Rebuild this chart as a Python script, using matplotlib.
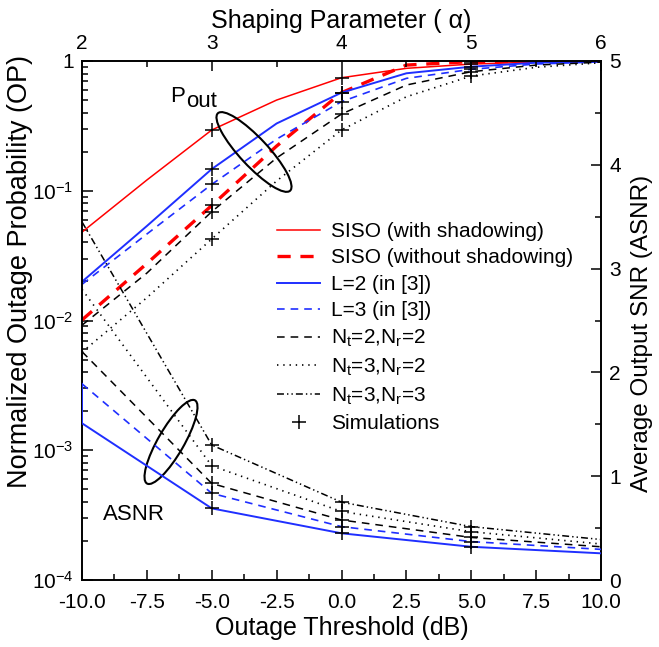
import matplotlib
matplotlib.use("Agg")
import matplotlib.pyplot as plt
from matplotlib.patches import Ellipse
from matplotlib.ticker import MultipleLocator, FixedLocator, NullFormatter
import numpy as np

plt.rcParams["font.family"] = ["Liberation Sans", "DejaVu Sans"]
plt.rcParams["mathtext.fontset"] = "custom"
plt.rcParams["mathtext.rm"] = "Liberation Sans"
plt.rcParams["mathtext.it"] = "Liberation Sans:italic"
plt.rcParams["mathtext.default"] = "regular"
plt.rcParams["lines.scale_dashes"] = False

# outage probability vs outage threshold (dB)
thr = [-10, -7.5, -5, -2.5, 0, 2.5, 5, 7.5, 10]
op_siso_sh = [0.048, 0.121, 0.294, 0.50, 0.743, 0.878, 0.947, 0.982, 0.995]
op_siso_nosh = [0.0101, 0.0275, 0.077, 0.221, 0.57, 0.93, 0.99, 0.998, 1.0]
op_l2 = [0.0199, 0.0535, 0.147, 0.33, 0.57, 0.804, 0.904, 0.97, 0.993]
op_l3 = [0.0190, 0.0464, 0.112, 0.25, 0.486, 0.735, 0.863, 0.948, 0.985]
op_22 = [0.0092, 0.0232, 0.069, 0.179, 0.39, 0.653, 0.827, 0.93, 0.98]
op_32 = [0.0057, 0.0150, 0.0425, 0.119, 0.294, 0.53, 0.766, 0.894, 0.97]
sim_thr = [-5, 0, 5]
thr_ticks = [-10, -7.5, -5, -2.5, 0, 2.5, 5, 7.5, 10]

# average output SNR vs shaping parameter alpha
alpha = [2, 3, 4, 5, 6]
alpha_l2 = [2, 2, 3, 4, 5, 6]
asnr_l2 = [1.89, 1.51, 0.69, 0.45, 0.32, 0.257]
asnr_l3 = [1.89, 0.835, 0.514, 0.37, 0.295]
asnr_22 = [2.20, 0.93, 0.578, 0.41, 0.32]
asnr_32 = [2.80, 1.10, 0.66, 0.465, 0.347]
asnr_33 = [3.45, 1.30, 0.75, 0.514, 0.39]
sim_alpha = [3, 4, 5]

W, H = 659, 647
fig = plt.figure(figsize=(W / 100, H / 100), dpi=100)
rect = [82 / W, 1 - 580 / H, 519 / W, 519 / H]
ax = fig.add_axes(rect)
ax2 = fig.add_axes(rect, frameon=False)

red_dash = (0, (9.5, 7))
blk_dash = (0, (5.5, 4.3))
dots = (0, (1, 3.5))
dashdotdot = (0, (5, 2.2, 1, 2.2, 1, 2.2))

h1, = ax.plot(thr, op_siso_sh, color="red", lw=1.1)
h2, = ax.plot(thr, op_siso_nosh, color="red", lw=2.4, linestyle=red_dash)
h3, = ax.plot(thr, op_l2, color="#1f2fff", lw=1.4)
h4, = ax.plot(thr, op_l3, color="#1f2fff", lw=1.2, linestyle=blk_dash)
h5, = ax.plot(thr, op_22, color="black", lw=1.1, linestyle=blk_dash)
h6, = ax.plot(thr, op_32, color="black", lw=1.2, linestyle=dots)

mk = dict(linestyle="none", marker="+", color="black", markersize=10, mew=1.1)
for series in [op_siso_sh, op_siso_nosh, op_l2, op_l3, op_22, op_32]:
    ax.plot(sim_thr, [series[thr.index(t)] for t in sim_thr], **mk)

ax2.plot(alpha_l2, asnr_l2, color="#1f2fff", lw=1.4)
ax2.plot(alpha, asnr_l3, color="#1f2fff", lw=1.2, linestyle=blk_dash)
ax2.plot(alpha, asnr_22, color="black", lw=1.1, linestyle=blk_dash)
ax2.plot(alpha, asnr_32, color="black", lw=1.2, linestyle=dots)
h7, = ax2.plot(alpha, asnr_33, color="black", lw=1.1, linestyle=dashdotdot)
for series in [asnr_l2[1:], asnr_l3, asnr_22, asnr_32, asnr_33]:
    h8, = ax2.plot(sim_alpha, [series[alpha.index(a)] for a in sim_alpha], **mk)

# axes setup
ax.set_xlim(-10, 10)
ax.set_yscale("log")
ax.set_ylim(1e-4, 1)
ax.set_xticks(thr_ticks)
ax.set_xticklabels(["%.1f" % v for v in thr_ticks])
ax.xaxis.set_minor_locator(MultipleLocator(1.25))
ax.yaxis.set_major_locator(FixedLocator([1e-4, 1e-3, 1e-2, 1e-1, 1]))
ax.set_yticklabels(["10$^{-4}$", "10$^{-3}$", "10$^{-2}$", "10$^{-1}$", "1"])
ax.yaxis.set_minor_locator(FixedLocator(
    [m * 10.0 ** e for e in range(-4, 0) for m in range(2, 10)]))
ax.yaxis.set_minor_formatter(NullFormatter())
ax.tick_params(which="both", direction="in", top=False, right=False, labelsize=15)
ax.tick_params(axis="x", which="major", length=7, width=1.1, pad=9)
ax.tick_params(axis="x", which="minor", length=4, width=1.1)
ax.tick_params(axis="y", which="major", length=8, width=1.1, pad=6)
ax.tick_params(axis="y", which="minor", length=4, width=1.1)
for s in ax.spines.values():
    s.set_linewidth(1.4)
ax.set_xlabel("Outage Threshold (dB)", fontsize=18, labelpad=3)
ax.set_ylabel("Normalized Outage Probability (OP)", fontsize=19.5)
ax.yaxis.set_label_coords(-0.094, 0.595)

ax2.set_xlim(2, 6)
ax2.set_ylim(0, 5)
ax2.xaxis.tick_top()
ax2.xaxis.set_label_position("top")
ax2.yaxis.tick_right()
ax2.yaxis.set_label_position("right")
ax2.xaxis.set_major_locator(MultipleLocator(1))
ax2.xaxis.set_minor_locator(MultipleLocator(0.5))
ax2.yaxis.set_major_locator(MultipleLocator(1))
ax2.yaxis.set_minor_locator(MultipleLocator(0.5))
ax2.tick_params(which="both", direction="in", labelsize=15, width=1.1)
ax2.tick_params(which="major", length=7)
ax2.tick_params(which="minor", length=4)
ax2.tick_params(axis="x", pad=6)
ax2.tick_params(axis="y", pad=6)
ax2.set_xlabel("Shaping Parameter ( \u03b1)", fontsize=18, labelpad=4)
ax2.set_ylabel("Average Output SNR (ASNR)", fontsize=17.5)
ax2.yaxis.set_label_coords(1.057, 0.475)

# annotations
ax2.add_patch(Ellipse((0.3314, 0.8247), 0.204, 0.054, angle=-47,
                      transform=ax2.transAxes, fill=False, lw=1.5, color="black"))
ax2.add_patch(Ellipse((0.1715, 0.266), 0.185, 0.05, angle=60,
                      transform=ax2.transAxes, fill=False, lw=1.5, color="black"))
ax2.text(0.1696, 0.9216, "P", transform=ax2.transAxes, fontsize=16)
ax2.text(0.2004, 0.912, "out", transform=ax2.transAxes, fontsize=16)
ax2.text(0.041, 0.1156, "ASNR", transform=ax2.transAxes, fontsize=16)

labels = ["SISO (with shadowing)", "SISO (without shadowing)", "L=2 (in [3])",
          "L=3 (in [3])", "N$_t$=2,N$_r$=2", "N$_t$=3,N$_r$=2", "N$_t$=3,N$_r$=3",
          "Simulations"]
ax2.legend([h1, h2, h3, h4, h5, h6, h7, h8], labels, loc="upper left",
           bbox_to_anchor=(0.375, 0.69), frameon=False, fontsize=15,
           handlelength=2.1, handletextpad=0.5, labelspacing=0.36,
           borderpad=0, borderaxespad=0)

fig.savefig("out.png", dpi=100)
